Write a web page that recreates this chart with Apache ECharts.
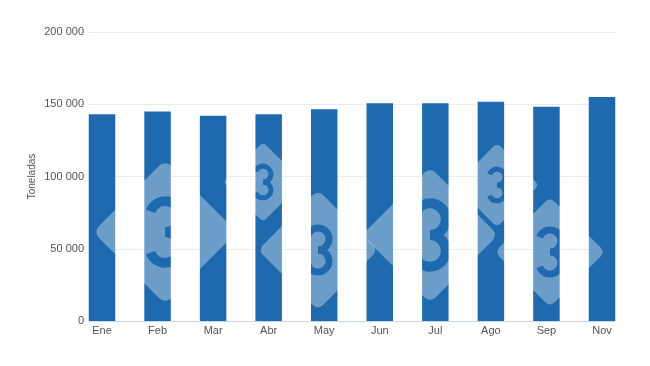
<!DOCTYPE html>
<html>
<head>
<meta charset="utf-8">
<script src="https://cdn.jsdelivr.net/npm/echarts@6/dist/echarts.min.js"></script>
<style>
html,body{margin:0;padding:0;background:#fff;}
#c{width:650px;height:366px;}
</style>
</head>
<body>
<div id="c"></div>
<script>
const months = ['Ene','Feb','Mar','Abr','May','Jun','Jul','Ago','Sep','Nov'];
const toneladas = [143100,145000,142000,143100,146600,150700,150700,151800,148200,155100];
const yMin = 0, yMax = 200000, yStep = 50000;
const yName = 'Toneladas';

const BAR = '#1f6aae';
const fmt = v => String(v).replace(/\B(?=(\d{3})+(?!\d))/g, ' ');

// decorative watermark (diamond logos), drawn only over the bars via source-atop on the bars' own layer
const marks = [
  [165, 232, 72, 70],
  [263, 182, 40, 36],
  [318, 250, 60, 50],
  [430, 235, 68, 72],
  [497, 185, 42, 36],
  [550, 252, 55, 50]
];
const elements = [];
marks.forEach(([cx, cy, hd, h]) => {
  const s = hd * Math.SQRT2;
  elements.push({
    type: 'rect', x: cx, y: cy, rotation: Math.PI / 4, z: 100, zlevel: 1, silent: true,
    shape: {x: -s/2, y: -s/2, width: s, height: s, r: s*0.08},
    style: {fill: 'rgba(255,255,255,0.34)', blend: 'source-atop'}
  });
  const r = h * 0.22, lw = h * 0.14;
  elements.push({
    type: 'arc', z: 101, zlevel: 1, silent: true,
    shape: {cx: cx, cy: cy - r, r: r, startAngle: -160*Math.PI/180, endAngle: 90*Math.PI/180, clockwise: true},
    style: {stroke: BAR, lineWidth: lw, fill: null, blend: 'source-atop'}
  });
  elements.push({
    type: 'arc', z: 101, zlevel: 1, silent: true,
    shape: {cx: cx, cy: cy + r, r: r, startAngle: -90*Math.PI/180, endAngle: 160*Math.PI/180, clockwise: true},
    style: {stroke: BAR, lineWidth: lw, fill: null, blend: 'source-atop'}
  });
});

const chart = echarts.init(document.getElementById('c'), null, {renderer: 'canvas'});
chart.setOption({
  animation: false,
  textStyle: {fontFamily: 'Liberation Sans, Arial, sans-serif'},
  grid: [
    {left: 102, right: 48, top: 32, bottom: 45},
    {left: 89, right: 35, top: 32, bottom: 45}
  ],
  xAxis: [
    {
      type: 'category', gridIndex: 0, data: months, boundaryGap: false,
      axisLine: {show: false}, axisTick: {show: false}, splitLine: {show: false},
      axisLabel: {color: '#555', fontSize: 11, margin: 4}
    },
    {
      type: 'category', gridIndex: 1, data: months,
      axisLine: {show: true, lineStyle: {color: '#ccd6eb', width: 1}},
      axisTick: {show: false}, axisLabel: {show: false}, splitLine: {show: false}
    }
  ],
  yAxis: [
    {
      type: 'value', gridIndex: 0, min: yMin, max: yMax, interval: yStep,
      axisLabel: {show: false}, splitLine: {show: false}, axisLine: {show: false}, axisTick: {show: false}
    },
    {
      type: 'value', gridIndex: 1, min: yMin, max: yMax, interval: yStep,
      axisLine: {show: false}, axisTick: {show: false},
      axisLabel: {color: '#555', fontSize: 11, margin: 5, formatter: fmt},
      splitLine: {show: true, lineStyle: {color: '#ebebeb', width: 1}},
      name: yName, nameLocation: 'middle', nameGap: 52, nameMoveOverlap: false,
      nameTextStyle: {color: '#555', fontSize: 10}
    }
  ],
  series: [{
    type: 'bar', xAxisIndex: 0, yAxisIndex: 0, data: toneladas,
    barWidth: 26.5, clip: false, z: 5, zlevel: 1,
    itemStyle: {color: BAR}
  }],
  graphic: {elements: elements}
});
</script>
</body>
</html>
